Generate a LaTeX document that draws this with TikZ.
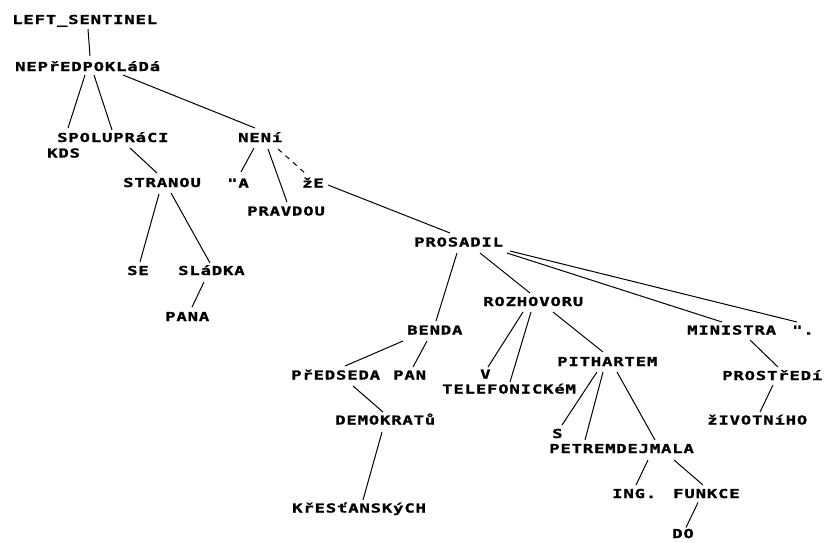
\documentclass[tikz,border=0pt]{standalone}
\usepackage{fontspec}
\newfontfamily\pxfont{DejaVu Sans Mono}[FakeStretch=1.4,LetterSpace=6.5,FakeBold=1.2]
\begin{document}
\begin{tikzpicture}[x=1pt,y=-1pt,
  lbl/.style={anchor=west,inner sep=0pt,text height=9pt,text depth=0pt,
    font=\pxfont\bfseries\fontsize{12.35}{14}\selectfont},
  link/.style={draw=black,line width=1pt},
  dlink/.style={link,dash pattern=on 5pt off 5pt}]
\useasboundingbox[fill=white] (0,0) rectangle (829,542);
\newcommand\edgeline[5][link]{\draw[#1] ([shift={#3}]#2.west) -- ([shift={#5}]#4.west);}
% nodes
\node[lbl] (LS)    at (12,19.5)  {LEFT\_SENTINEL};
\node[lbl] (NEP)   at (15,66.5)  {NEPřEDPOKLáDá};
\node[lbl] (SPOL)  at (57,137.5) {SPOLUPRáCI};
\node[lbl] (KDS)   at (47,153)   {KDS};
\node[lbl] (NENI)  at (238,137.5){NENí};
\node[lbl] (STR)   at (123,182.5){STRANOU};
\node[lbl] (QA)    at (227,183)  {"A};
\node[lbl] (ZE)    at (302,183)  {žE};
\node[lbl] (PRAV)  at (247,211)  {PRAVDOU};
\node[lbl] (PROS)  at (414,242)  {PROSADIL};
\node[lbl] (SE)    at (127,270.5){SE};
\node[lbl] (SLA)   at (178,270.5){SLáDKA};
\node[lbl] (PANA)  at (165,316.5){PANA};
\node[lbl] (ROZ)   at (483,301.5){ROZHOVORU};
\node[lbl] (BENDA) at (407,330)  {BENDA};
\node[lbl] (MIN)   at (687,330)  {MINISTRA};
\node[lbl] (QD)    at (792,330)  {".};
\node[lbl] (PRED)  at (291,375)  {PřEDSEDA};
\node[lbl] (PAN)   at (393,375)  {PAN};
\node[lbl] (V)     at (480,374)  {V};
\node[lbl] (TEL)   at (442,389)  {TELEFONICKéM};
\node[lbl] (PIT)   at (557,361.5){PITHARTEM};
\node[lbl] (PROST) at (722,375.5){PROSTřEDí};
\node[lbl] (DEM)   at (335,420)  {DEMOKRATů};
\node[lbl] (ZIV)   at (707,420)  {žIVOTNíHO};
\node[lbl] (S)     at (552,433.5){S};
\node[lbl] (PET)   at (549,448.5){PETREM};
\node[lbl] (DEJ)   at (616,448.5){DEJMALA};
\node[lbl] (ING)   at (612,493.5){ING.};
\node[lbl] (FUN)   at (673,493.5){FUNKCE};
\node[lbl] (KRES)  at (292,508)  {KřESťANSKýCH};
\node[lbl] (DO)    at (672,533.5){DO};
% edges
\edgeline{LS}{(76,9.5)}{NEP}{(75,-10.5)}
\edgeline{NEP}{(70,8.5)}{KDS}{(21,-25)}
\edgeline{NEP}{(79,8.5)}{SPOL}{(55,-7.5)}
\edgeline{NEP}{(108,8.5)}{NENI}{(17,-9.5)}
\edgeline{SPOL}{(73,10.5)}{STR}{(34,-9.5)}
\edgeline{NENI}{(16,10.5)}{QA}{(14,-11)}
\edgeline{NENI}{(30,11.5)}{PRAV}{(40,-9)}
\edgeline[dlink]{NENI}{(40,11.5)}{ZE}{(3,-10)}
\edgeline{ZE}{(26,2)}{PROS}{(36,-9)}
\edgeline{STR}{(36,11.5)}{SE}{(13,-8.5)}
\edgeline{STR}{(48,10.5)}{SLA}{(32,-7.5)}
\edgeline{SLA}{(26,11.5)}{PANA}{(27,-9.5)}
\edgeline{PROS}{(43,11)}{BENDA}{(29,-9)}
\edgeline{PROS}{(66,11)}{ROZ}{(47,-8.5)}
\edgeline{PROS}{(93,11)}{MIN}{(35,-8)}
\edgeline{PROS}{(96,9)}{QD}{(5,-8)}
\edgeline{ROZ}{(40,10.5)}{V}{(8,-7)}
\edgeline{ROZ}{(48,10.5)}{TEL}{(68,-7)}
\edgeline{ROZ}{(70,10.5)}{PIT}{(46,-9.5)}
\edgeline{BENDA}{(-4,11)}{PRED}{(54,-9)}
\edgeline{BENDA}{(20,11)}{PAN}{(20,-8)}
\edgeline{PRED}{(62,11)}{DEM}{(48,-8)}
\edgeline{DEM}{(47,12)}{KRES}{(71,-8)}
\edgeline{MIN}{(63,10)}{PROST}{(56,-8.5)}
\edgeline{PROST}{(51,9.5)}{ZIV}{(53,-8)}
\edgeline{PIT}{(40,10.5)}{S}{(10,-8.5)}
\edgeline{PIT}{(46,10.5)}{PET}{(36,-8.5)}
\edgeline{PIT}{(60,10.5)}{DEJ}{(39,-8.5)}
\edgeline{DEJ}{(32,11.5)}{ING}{(24,-8.5)}
\edgeline{DEJ}{(58,11.5)}{FUN}{(30,-8.5)}
\edgeline{FUN}{(25,9)}{DO}{(14,-6)}
\end{tikzpicture}
\end{document}
